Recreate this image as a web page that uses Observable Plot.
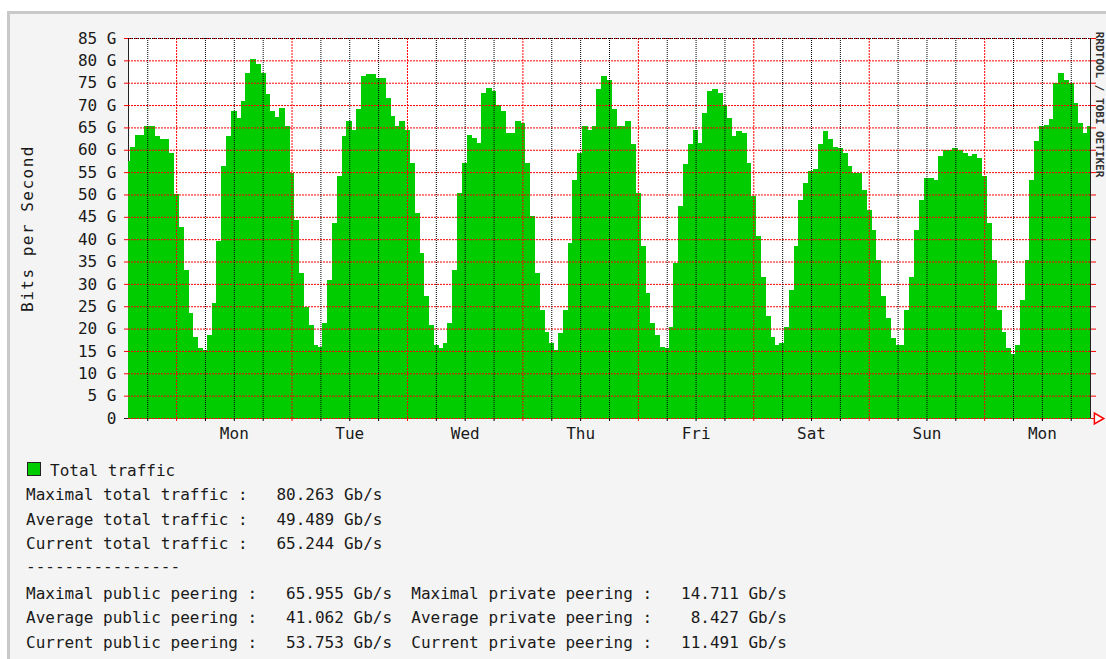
<!DOCTYPE html>
<html>
<head>
<meta charset="utf-8">
<script src="https://cdn.jsdelivr.net/npm/d3@7"></script>
<script src="https://cdn.jsdelivr.net/npm/@observablehq/plot@0.6"></script>
<style>
  html, body { margin: 0; padding: 0; background: #ffffff; width: 1106px; height: 659px; overflow: hidden; }
  #page { position: absolute; left: 7px; top: 11px; width: 1099px; height: 648px; background: #f4f4f4;
          border-top: 3px solid #c9c9c9; border-left: 3px solid #c9c9c9; box-sizing: border-box; }
  #chart { position: absolute; left: 0; top: 0; }
  #legend { position: absolute; left: 0; top: 0; }
  #legend text { font-family: "DejaVu Sans Mono", monospace; font-size: 16px; fill: #1a1a1a; white-space: pre; }
</style>
</head>
<body>
<div id="page"></div>
<div id="chart"></div>
<svg id="legend" width="1106" height="659"></svg>
<script>
// Hourly total traffic (Gb/s)
const sunTail = [57.3, 60.5, 63.1, 63.3, 65.2, 65.2, 62.9, 62.2, 62.2, 59.2];
const mon  = [50, 42.7, 33, 23.3, 18.1, 15.5, 15.1, 18.5, 25.6, 39.4, 56.2, 62.9, 68.5, 67, 70.8, 77.1, 80.2, 79, 77.1, 72.3, 68.5, 67.3, 69.3, 65.2];
const tue  = [54.7, 44.2, 32.3, 24.8, 20.7, 16.2, 15.8, 21.1, 30.8, 43.5, 54, 62.9, 66.3, 64.4, 68.9, 76.4, 76.8, 76.8, 76, 76, 71.5, 67.4, 65.2, 66.3];
const wed  = [64.4, 57, 45.7, 36.8, 27.1, 20.7, 16.2, 15.5, 16.6, 21.1, 33, 50.2, 57, 63.3, 62.6, 61.4, 72.6, 73.8, 73, 70, 68.5, 63.7, 63.7, 66.3];
const thu  = [65.9, 57, 45, 32.3, 24.1, 19.2, 16.6, 15.2, 18.8, 24.1, 39, 53.2, 59.2, 65.2, 64.4, 65.2, 73.4, 76.4, 75.6, 69, 65.2, 65.2, 66.3, 61.1];
const fri  = [50.2, 38.3, 27.8, 21.1, 18.5, 15.8, 15.5, 20.3, 34.5, 47.2, 56.6, 61.1, 64.4, 61.4, 68.2, 73, 73.4, 72.6, 70, 67, 62.9, 64, 63.7, 57];
const sat  = [49.5, 40.5, 31.5, 22.6, 18.1, 16.2, 16.6, 20.3, 28.5, 38.3, 48.7, 52.5, 55.1, 55.5, 61.1, 64, 62.2, 60.5, 60.3, 59.2, 56.2, 54.7, 54.7, 51];
const sun  = [46.5, 42, 35.3, 27.1, 22.2, 17.7, 16.2, 16.2, 24.1, 31.5, 42, 48.7, 53.6, 53.6, 53.2, 58.4, 59.9, 59.9, 60.3, 59.8, 59.2, 58.4, 59, 58.1];
const mon2 = [54, 43.5, 35.3, 24.1, 19.2, 15.5, 14.2, 16.2, 26.3, 35.3, 53.2, 61.8, 65.2, 65.5, 66.7, 74.9, 77.1, 75.6, 74.9, 70.4, 65.8, 63.7, 65.2];

const dayLabels = ["Mon", "Tue", "Wed", "Thu", "Fri", "Sat", "Sun", "Mon"];
const yTicks = [0, 5, 10, 15, 20, 25, 30, 35, 40, 45, 50, 55, 60, 65, 70, 75, 80, 85];

const totalLabels = ["Maximal total traffic", "Average total traffic", "Current total traffic"];
const totalStats = [80.263, 49.489, 65.244];
const publicLabels = ["Maximal public peering", "Average public peering", "Current public peering"];
const publicStats = [65.955, 41.062, 53.753];
const privateLabels = ["Maximal private peering", "Average private peering", "Current private peering"];
const privateStats = [14.711, 8.427, 11.491];

// time axis
const mon0 = new Date(Date.UTC(2021, 2, 1)); // a Monday, 00:00
const values = [...sunTail, ...mon, ...tue, ...wed, ...thu, ...fri, ...sat, ...sun, ...mon2];
const start = d3.utcHour.offset(mon0, -sunTail.length);
const data = values.map((v, i) => ({t: d3.utcHour.offset(start, i), v}));
const end = data[data.length - 1].t;

const midnights = d3.utcDay.range(start, end);
const sixes = d3.utcHour.every(6).range(start, end).filter(d => d.getUTCHours() !== 0);
const noons = dayLabels.map((_, i) => d3.utcHour.offset(mon0, 12 + 24 * i));

// each hourly sample covers the half hour on either side (clamped to the time domain)
const x1 = d => d3.utcMinute.offset(d.t, -30) < start ? start : d3.utcMinute.offset(d.t, -30);
const x2 = d => d3.utcMinute.offset(d.t, 30) > end ? end : d3.utcMinute.offset(d.t, 30);

const red = "#ff0000";
const green = "#00cc00";
const chart = Plot.plot({
  width: 1106,
  height: 450,
  marginLeft: 128,
  marginRight: 16,
  marginTop: 38,
  marginBottom: 32,
  style: {fontFamily: "'DejaVu Sans Mono', monospace", fontSize: "16px", background: "transparent", color: "#1a1a1a"},
  x: {type: "utc", domain: [start, end], label: null},
  y: {domain: [0, 85], label: null},
  marks: [
    Plot.frame({fill: "white", stroke: null}),
    Plot.ruleX([start], {stroke: "#222"}),
    Plot.rectY(data, {x1, x2, y1: 0, y2: "v", fill: green, stroke: green, strokeWidth: 1, inset: 0, shapeRendering: "crispEdges"}),
    Plot.ruleY(yTicks, {stroke: red, strokeDasharray: "2,1"}),
    Plot.ruleX(midnights, {stroke: red, strokeDasharray: "2,1"}),
    Plot.ruleX(sixes, {stroke: "#000", strokeDasharray: "1,1"}),
    Plot.ruleY([85], {stroke: "#000", strokeDasharray: "1,1"}),
    Plot.ruleX([end], {stroke: "#222"}),
    Plot.axisY(yTicks, {tickSize: 4, tickPadding: 8, stroke: red, fill: "#1a1a1a",
      tickFormat: d => d === 0 ? "0" : d + " G", label: null}),
    Plot.axisY([0], {tickSize: 4, stroke: "#222", tickFormat: () => "", label: null}),
    Plot.axisY(yTicks, {anchor: "right", tickSize: 5, stroke: red, tickFormat: () => "", label: null}),
    Plot.axisX(midnights, {tickSize: 3, stroke: red, tickFormat: () => "", label: null}),
    Plot.axisX(sixes, {tickSize: 3, stroke: "#000", tickFormat: () => "", label: null}),
    Plot.axisX(noons, {tickSize: 0, tickPadding: 9, fill: "#1a1a1a", label: null,
      tickFormat: d => dayLabels[noons.findIndex(n => +n === +d)]}),
    Plot.text(["Bits per Second"], {frameAnchor: "left", dx: -101, rotate: -90, textAnchor: "middle", lineAnchor: "middle",
      fontSize: 16, fill: "#1a1a1a"}),
    Plot.text(["RRDTOOL / TOBI OETIKER"], {frameAnchor: "top-right", dx: 9, dy: 66, rotate: 90, textAnchor: "middle", lineAnchor: "middle",
      fontSize: 11, fontWeight: "bold", fill: "#333"}),
    Plot.dot([end], {x: d => d, y: () => 0, symbol: "triangle", rotate: 90, r: 4, stroke: red, fill: "white", dx: 7})
  ]
});
// wider letter spacing for the vertical axis title, as in the original
d3.select(chart).selectAll("text").filter(function() { return this.textContent === "Bits per Second"; })
  .style("letter-spacing", "1.5px");
document.getElementById("chart").append(chart);

// legend / statistics block
const lg = d3.select("#legend");
lg.append("rect").attr("x", 27.5).attr("y", 462.5).attr("width", 13).attr("height", 13)
  .attr("fill", green).attr("stroke", "#222");
lg.append("text").attr("x", 50).attr("y", 475.5).text("Total traffic");
const fmt = v => v.toFixed(3).padStart(6, " ");
const totalBase = [500, 524.5, 549];
totalLabels.forEach((l, i) => {
  lg.append("text").attr("x", 26).attr("y", totalBase[i]).text(`${l} :   ${fmt(totalStats[i])} Gb/s`);
});
lg.append("text").attr("x", 26).attr("y", 571.5).text("----------------");
const peerBase = [598.5, 623, 647.5];
publicLabels.forEach((l, i) => {
  lg.append("text").attr("x", 26).attr("y", peerBase[i])
    .text(`${l} :   ${fmt(publicStats[i])} Gb/s  ${privateLabels[i]} :   ${fmt(privateStats[i])} Gb/s`);
});
</script>
</body>
</html>
